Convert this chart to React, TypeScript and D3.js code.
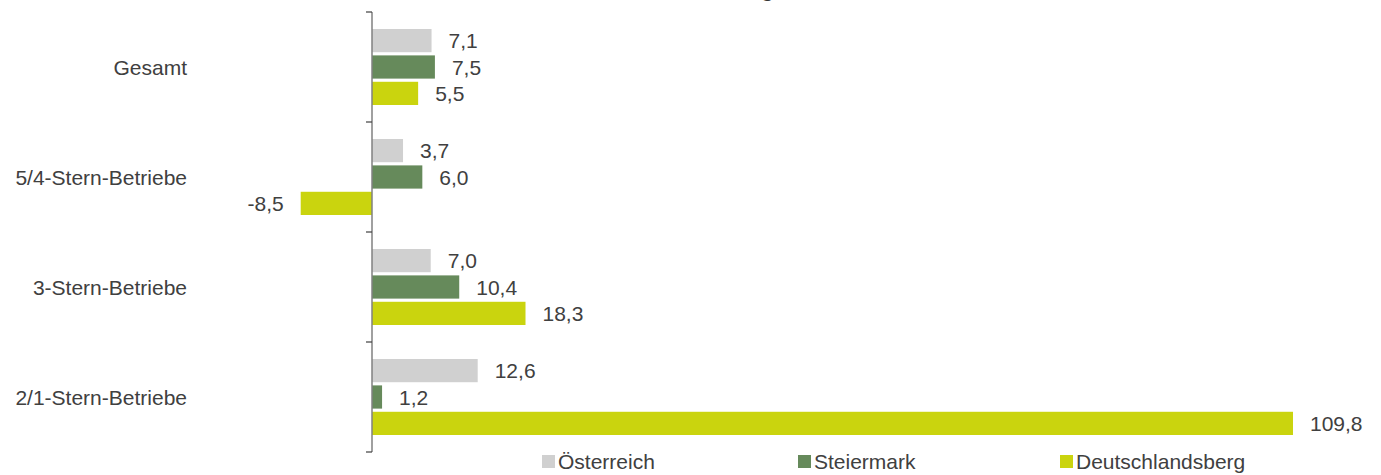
import React from 'react';
import * as d3 from 'd3';

const categories = ['Gesamt', '5/4-Stern-Betriebe', '3-Stern-Betriebe', '2/1-Stern-Betriebe'];
const seriesNames = ['Österreich', 'Steiermark', 'Deutschlandsberg'];
const oesterreich = [7.1, 3.7, 7.0, 12.6];
const steiermark = [7.5, 6.0, 10.4, 1.2];
const deutschlandsberg = [5.5, -8.5, 18.3, 109.8];
const colors = ['#d0d0d0', '#668a5b', '#cad40e'];

const W = 1381;
const H = 475;
const font = 'Liberation Sans, Arial, sans-serif';
const textColor = '#404040';
const fs = 21;

export default function App() {
  const series = [oesterreich, steiermark, deutschlandsberg];

  const x = d3.scaleLinear().domain([0, 109.8]).range([372, 1293]);
  const y = d3.scaleBand<string>().domain(categories).range([12, 452]);
  const inner = d3
    .scaleBand<string>()
    .domain(seriesNames)
    .range([17, 93])
    .paddingInner(0.12);

  const fmt = (v: number) => v.toFixed(1).replace('.', ',');

  // legend positions (square left edge)
  const legendX = [542, 798, 1060];

  return (
    <svg
      width={W}
      height={H}
      style={{ position: 'absolute', left: 0, top: 0, background: '#fff' }}
      fontFamily={font}
    >
      {/* title, mostly out of view */}
      <text x={774} y={-3} textAnchor="end" fontSize={fs} fontWeight="bold" fill="#333">
        Veränderung
      </text>

      {categories.map((c, i) => (
        <g key={c}>
          <text
            x={187}
            y={(y(c) ?? 0) + y.bandwidth() / 2}
            textAnchor="end"
            dominantBaseline="central"
            fontSize={fs}
            fill={textColor}
          >
            {c}
          </text>
          {seriesNames.map((s, j) => {
            const v = series[j][i];
            const by = (y(c) ?? 0) + (inner(s) ?? 0);
            const x0 = Math.min(x(0), x(v));
            const w = Math.abs(x(v) - x(0));
            const cy = by + inner.bandwidth() / 2;
            return (
              <g key={s}>
                <rect x={x0} y={by} width={w} height={inner.bandwidth()} fill={colors[j]} />
                <text
                  x={v >= 0 ? x(v) + 17 : x(v) - 17}
                  y={cy}
                  textAnchor={v >= 0 ? 'start' : 'end'}
                  dominantBaseline="central"
                  fontSize={fs}
                  fill={textColor}
                >
                  {fmt(v)}
                </text>
              </g>
            );
          })}
        </g>
      ))}

      {/* category axis */}
      <line x1={x(0)} x2={x(0)} y1={12} y2={452} stroke="#808080" strokeWidth={1.5} />
      {d3.range(categories.length + 1).map((k) => {
        const ty = 12 + k * y.step();
        return <line key={k} x1={x(0) - 6} x2={x(0)} y1={ty} y2={ty} stroke="#404040" strokeWidth={1.2} />;
      })}

      {/* legend */}
      {seriesNames.map((s, j) => (
        <g key={s}>
          <rect x={legendX[j]} y={455} width={13} height={13} fill={colors[j]} />
          <text x={legendX[j] + 16} y={469} fontSize={fs} fill={textColor}>
            {s}
          </text>
        </g>
      ))}
    </svg>
  );
}
